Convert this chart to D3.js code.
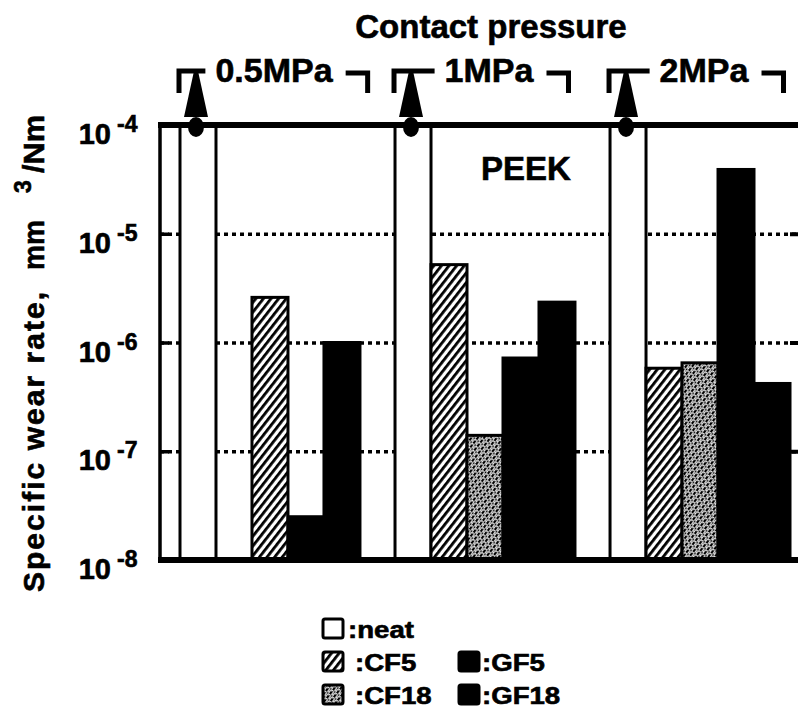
<!DOCTYPE html>
<html>
<head>
<meta charset="utf-8">
<script src="https://cdn.jsdelivr.net/npm/d3@7"></script>
<style>
  body { margin: 0; background: #fff; }
  text { font-family: "Liberation Sans", Arial, Helvetica, sans-serif; font-weight: bold; fill: #000;
         stroke: #000; stroke-width: 0.6px; }
</style>
</head>
<body>
<div id="chart"></div>
<script>
// wear rate data (mm^3/Nm)
var groups = ["0.5MPa", "1MPa", "2MPa"];
var series = ["neat", "CF5", "CF18", "GF5", "GF18"];
// which series sits in which slot of each group (0.5MPa has no CF18 bar)
var groupSlots = [
  ["neat", "", "CF5", "GF5", "GF18"],
  ["neat", "CF5", "CF18", "GF5", "GF18"],
  ["neat", "CF5", "CF18", "GF5", "GF18"]
];
var neat = [1e-4, 1e-4, 1e-4];       // off the top of the scale -> arrow
var neatOffScale = [true, true, true];
var cf5 = [2.6e-6, 5.2e-6, 5.8e-7];
var cf18 = [null, 1.4e-7, 6.5e-7];
var gf5 = [2.5e-8, 7.2e-7, 3.9e-5];
var gf18 = [1.0e-6, 2.35e-6, 4.2e-7];

var yTicks = [1e-4, 1e-5, 1e-6, 1e-7, 1e-8];
var yTickExp = ["-4", "-5", "-6", "-7", "-8"];
var gridTicks = [1e-5, 1e-6, 1e-7];

var legendKeys = ["neat", "CF5", "CF18", "GF5", "GF18"];
var legendLabels = [":neat", ":CF5", ":CF18", ":GF5", ":GF18"];
var legendCol = [0, 0, 0, 1, 1];
var legendRow = [0, 1, 2, 1, 2];

var values = { neat: neat, CF5: cf5, CF18: cf18, GF5: gf5, GF18: gf18 };

var svgWidth = 798;
var svgHeight = 727;
var plotLeft = 160, plotRight = 801, plotTop = 125, plotBottom = 560;

var svg = d3.select("#chart")
  .append("svg")
  .attr("width", svgWidth)
  .attr("height", svgHeight);

svg.append("rect").attr("width", svgWidth).attr("height", svgHeight).attr("fill", "#fff");

// patterns for the carbon fibre bars
var defs = svg.append("defs");
defs.append("pattern")
  .attr("id", "hatch")
  .attr("patternUnits", "userSpaceOnUse")
  .attr("width", 6).attr("height", 6)
  .attr("patternTransform", "rotate(38)")
  .call(p => {
    p.append("rect").attr("width", 6).attr("height", 6).attr("fill", "#fff");
    p.append("rect").attr("width", 2.8).attr("height", 6).attr("fill", "#000");
  });
defs.append("pattern")
  .attr("id", "stipple")
  .attr("patternUnits", "userSpaceOnUse")
  .attr("width", 5).attr("height", 5)
  .attr("patternTransform", "rotate(38)")
  .call(p => {
    p.append("rect").attr("width", 5).attr("height", 5).attr("fill", "#fff");
    p.append("rect").attr("x", 0).attr("y", 0).attr("width", 2.2).attr("height", 3).attr("fill", "#000");
    p.append("rect").attr("x", 2.6).attr("y", 2.4).attr("width", 1.8).attr("height", 2).attr("fill", "#000");
    p.append("rect").attr("x", 3.4).attr("y", 0.2).attr("width", 1).attr("height", 1).attr("fill", "#000");
    p.append("rect").attr("x", 0.6).attr("y", 3.8).attr("width", 1.2).attr("height", 1.2).attr("fill", "#000");
  });

var fills = { neat: "#fff", CF5: "url(#hatch)", CF18: "url(#stipple)", GF5: "#000", GF18: "#000" };

// scales
var y = d3.scaleLog().domain([1e-8, 1e-4]).range([plotBottom, plotTop]).clamp(true);
var x0 = d3.scaleBand().domain(groups).range([180, 790]).paddingInner(0.163);
var x1 = d3.scaleBand().domain(d3.range(5)).range([0, x0.bandwidth()]);

// dotted grid lines
svg.append("g")
  .attr("transform", `translate(${plotLeft},0)`)
  .call(d3.axisRight(y).tickValues(gridTicks).tickSize(plotRight - plotLeft).tickFormat(""))
  .call(g => g.select(".domain").remove())
  .selectAll("line")
  .attr("stroke", "#000")
  .attr("stroke-width", 3.5)
  .attr("stroke-dasharray", "4,4");

// bars
var barData = [];
groups.forEach(function(grp, gi) {
  groupSlots[gi].forEach(function(s, si) {
    if (!s) return;
    var v = values[s][gi];
    if (v == null) return;
    barData.push({ group: grp, gi: gi, slot: si, key: s, value: v });
  });
});

svg.append("g").selectAll("rect")
  .data(barData)
  .enter()
  .append("rect")
  .attr("x", d => x0(d.group) + x1(d.slot))
  .attr("y", d => y(d.value))
  .attr("width", x1.bandwidth())
  .attr("height", d => y(1e-8) - y(d.value))
  .attr("fill", d => fills[d.key])
  .attr("stroke", "#000")
  .attr("stroke-width", 3);

// frame and ticks
var leftAxis = svg.append("g")
  .attr("transform", `translate(${plotLeft},0)`)
  .call(d3.axisLeft(y).tickValues(gridTicks).tickSize(-9).tickFormat(""));
leftAxis.select(".domain").remove();
leftAxis.selectAll("line").attr("stroke", "#000").attr("stroke-width", 3.5);

var rightAxis = svg.append("g")
  .attr("transform", `translate(${plotRight},0)`)
  .call(d3.axisRight(y).tickValues(gridTicks).tickSize(-11).tickFormat(""));
rightAxis.select(".domain").remove();
rightAxis.selectAll("line").attr("stroke", "#000").attr("stroke-width", 4);

svg.append("line").attr("x1", plotLeft).attr("x2", plotLeft)
  .attr("y1", plotTop).attr("y2", plotBottom)
  .attr("stroke", "#000").attr("stroke-width", 3.5);
svg.append("line").attr("x1", plotLeft - 2).attr("x2", plotRight)
  .attr("y1", plotTop).attr("y2", plotTop)
  .attr("stroke", "#000").attr("stroke-width", 6);
svg.append("line").attr("x1", plotLeft - 2).attr("x2", plotRight)
  .attr("y1", plotBottom).attr("y2", plotBottom)
  .attr("stroke", "#000").attr("stroke-width", 6);

// y tick labels 10^n
var tickLab = svg.append("g").selectAll("g")
  .data(yTicks)
  .enter()
  .append("g");
tickLab.append("text")
  .attr("x", 111)
  .attr("y", d => y(d) + 19)
  .attr("text-anchor", "end")
  .attr("font-size", 29)
  .text("10");
tickLab.append("text")
  .attr("x", 117)
  .attr("y", d => y(d) + 7)
  .attr("font-size", 23)
  .text((d, i) => yTickExp[i]);

// y axis title
var ttl = svg.append("g").attr("transform", "translate(44,592) rotate(-90)");
ttl.append("text").attr("x", 0).attr("y", 0).attr("font-size", 30)
  .attr("textLength", 300).attr("lengthAdjust", "spacing")
  .text("Specific wear rate,");
ttl.append("text").attr("x", 322).attr("y", 0).attr("font-size", 30)
  .attr("textLength", 50).attr("lengthAdjust", "spacingAndGlyphs")
  .text("mm");
ttl.append("text").attr("x", 399).attr("y", -13).attr("font-size", 23)
  .text("3");
ttl.append("text").attr("x", 419).attr("y", 0).attr("font-size", 30)
  .attr("textLength", 58).attr("lengthAdjust", "spacingAndGlyphs")
  .text("/Nm");

// top titles
svg.append("text")
  .attr("x", 491).attr("y", 38)
  .attr("text-anchor", "middle")
  .attr("font-size", 33)
  .text("Contact pressure");

svg.append("text")
  .attr("x", 526).attr("y", 180)
  .attr("text-anchor", "middle")
  .attr("font-size", 33)
  .text("PEEK");

// group labels with brackets hugging them, plus off-scale arrows
var grpG = svg.append("g").selectAll("g")
  .data(groups)
  .enter()
  .append("g");

grpG.append("text")
  .attr("x", d => x0(d) + x0.bandwidth() / 2 + 4)
  .attr("y", 82)
  .attr("text-anchor", "middle")
  .attr("font-size", 34)
  .text(d => d);

grpG.each(function(d) {
  var g = d3.select(this);
  var bb = g.select("text").node().getBBox();
  g.append("path")
    .attr("d", `M${x0(d) - 1},93 V71 H${bb.x - 10}`)
    .attr("fill", "none").attr("stroke", "#000").attr("stroke-width", 5);
  g.append("path")
    .attr("d", `M${bb.x + bb.width + 12},73 H${bb.x + bb.width + 34} V93`)
    .attr("fill", "none").attr("stroke", "#000").attr("stroke-width", 5);
});

var arrows = grpG.filter((d, i) => neatOffScale[i]);
arrows.append("path")
  .attr("d", function(d) {
    var cx = x0(d) + x1(0) + x1.bandwidth() / 2 - 2;
    var top = y(neat[groups.indexOf(d)]);
    return `M${cx - 2},${top - 54} L${cx + 2},${top - 54} L${cx + 12},${top - 8} L${cx - 12},${top - 8} Z`;
  })
  .attr("fill", "#000");
arrows.append("ellipse")
  .attr("cx", d => x0(d) + x1(0) + x1.bandwidth() / 2 - 2)
  .attr("cy", d => y(neat[groups.indexOf(d)]) + 2)
  .attr("rx", 8).attr("ry", 10)
  .attr("fill", "#000");

// legend
var legend = svg.append("g").selectAll("g")
  .data(legendKeys)
  .enter()
  .append("g")
  .attr("transform", (d, i) => `translate(${323 + legendCol[i] * 136},${619 + legendRow[i] * 33})`);
legend.append("rect")
  .attr("width", 20).attr("height", 19).attr("rx", 2)
  .attr("fill", d => fills[d])
  .attr("stroke", "#000").attr("stroke-width", 3);
legend.append("text")
  .attr("x", (d, i) => legendCol[i] === 0 ? (i === 0 ? 25 : 32) : 23)
  .attr("y", 19)
  .attr("font-size", 23)
  .text((d, i) => legendLabels[i])
  .each(function() {
    var w = this.getComputedTextLength();
    d3.select(this).attr("textLength", w * 1.2).attr("lengthAdjust", "spacingAndGlyphs");
  });
</script>
</body>
</html>
